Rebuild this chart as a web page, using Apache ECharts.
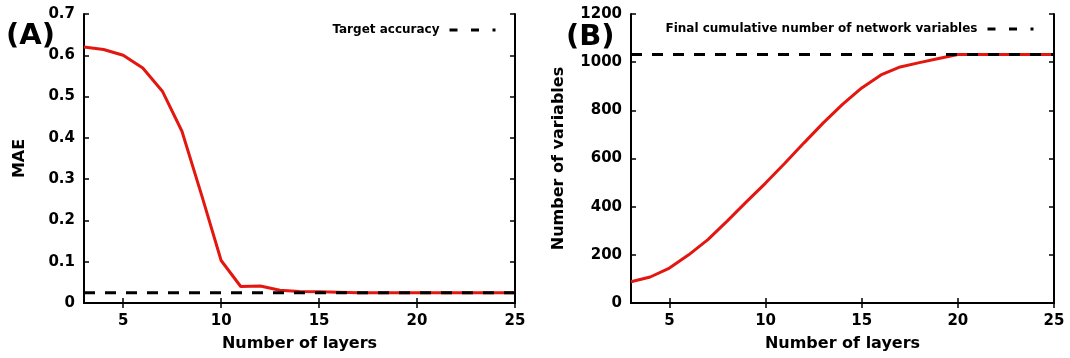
<!DOCTYPE html>
<html>
<head>
<meta charset="utf-8">
<script src="https://cdn.jsdelivr.net/npm/echarts@6.0.0/dist/echarts.min.js"></script>
<style>
  html, body { margin: 0; padding: 0; background: #fff; }
  #main { width: 1070px; height: 358px; }
</style>
</head>
<body>
<div id="main"></div>
<script>
// 层数
var layersA = [3, 4, 5, 6, 7, 8, 9, 10, 11, 12, 13, 14, 15, 16, 17, 18, 19, 20, 21, 22, 23, 24, 25];
var mae = [0.62, 0.614, 0.6, 0.569, 0.513, 0.416, 0.262, 0.103, 0.04, 0.041, 0.031, 0.028, 0.027, 0.026, 0.025, 0.025, 0.025, 0.025, 0.025, 0.025, 0.025, 0.025, 0.025];
var targetAcc = 0.025;

var layersB = [3, 4, 5, 6, 7, 8, 9, 10, 11, 12, 13, 14, 15, 16, 17, 18, 19, 20, 21, 22, 23, 24, 25];
var numVars = [88, 108, 145, 200, 263, 340, 420, 498, 580, 665, 748, 825, 893, 947, 980, 998, 1015, 1032, 1032, 1032, 1032, 1032, 1032];
var finalVars = 1032;

var xTicks = [5, 10, 15, 20, 25];

function pairs(xs, ys) {
    var out = [];
    for (var i = 0; i < xs.length; i++) {
        out.push([xs[i], ys[i]]);
    }
    return out;
}

var FONT = 'DejaVu Sans';
var RED = '#e3170f';

// 底部x轴
function bottomX(grid) {
    return {
        type: 'value', gridIndex: grid, min: 3, max: 25, position: 'bottom',
        name: 'Number of layers', nameLocation: 'middle', nameGap: 33,
        nameTextStyle: { fontFamily: FONT, fontWeight: 'bold', fontSize: 16, color: '#000' },
        axisLine: { show: true, lineStyle: { color: '#000', width: 2 } },
        axisTick: { show: true, inside: true, length: 5, customValues: xTicks, lineStyle: { color: '#000', width: 1.5 } },
        axisLabel: { customValues: xTicks, margin: 11, fontFamily: FONT, fontWeight: 'bold', fontSize: 15, color: '#000' },
        splitLine: { show: false }
    };
}
// 顶部镜像轴
function topX(grid) {
    return {
        type: 'value', gridIndex: grid, min: 3, max: 25, position: 'top',
        axisLine: { show: true, lineStyle: { color: '#000', width: 2 } },
        axisTick: { show: true, inside: true, length: 5, customValues: xTicks, lineStyle: { color: '#000', width: 1.5 } },
        axisLabel: { show: false },
        splitLine: { show: false }
    };
}
function leftY(grid, max, interval, name, gap, fmt) {
    return {
        type: 'value', gridIndex: grid, min: 0, max: max, interval: interval, position: 'left',
        name: name, nameLocation: 'middle', nameGap: gap,
        nameTextStyle: { fontFamily: FONT, fontWeight: 'bold', fontSize: 16, color: '#000' },
        axisLine: { show: true, lineStyle: { color: '#000', width: 2 } },
        axisTick: { show: true, inside: true, length: 5, lineStyle: { color: '#000', width: 1.5 } },
        axisLabel: { margin: 9, fontFamily: FONT, fontWeight: 'bold', fontSize: 15, color: '#000', formatter: fmt },
        splitLine: { show: false }
    };
}
function rightY(grid, max, interval) {
    return {
        type: 'value', gridIndex: grid, min: 0, max: max, interval: interval, position: 'right',
        axisLine: { show: true, lineStyle: { color: '#000', width: 2 } },
        axisTick: { show: true, inside: true, length: 5, lineStyle: { color: '#000', width: 1.5 } },
        axisLabel: { show: false },
        splitLine: { show: false }
    };
}

var myChart = echarts.init(document.getElementById('main'));

var option = {
    backgroundColor: '#fff',
    animation: false,
    title: [
        { text: '(A)', left: 6, top: 22, padding: 0, textStyle: { fontFamily: FONT, fontWeight: 'bold', fontSize: 29, color: '#000' } },
        { text: '(B)', left: 566, top: 23, padding: 0, textStyle: { fontFamily: FONT, fontWeight: 'bold', fontSize: 29, color: '#000' } }
    ],
    grid: [
        { left: 84, top: 14, width: 431, height: 289 },
        { left: 631, top: 14, width: 423, height: 289 }
    ],
    legend: [
        {
            data: ['Target accuracy'], right: 573, top: 24, padding: 0, align: 'right',
            itemWidth: 46, itemHeight: 14,
            itemStyle: { opacity: 0 },
            lineStyle: { width: 3, type: [8, 13.5], color: '#000' },
            textStyle: { fontFamily: FONT, fontWeight: 'bold', fontSize: 12, color: '#000', padding: [0, 5, 0, 0] }
        },
        {
            data: ['Final cumulative number of network variables'], right: 35, top: 23, padding: 0, align: 'right',
            itemWidth: 46, itemHeight: 14,
            itemStyle: { opacity: 0 },
            lineStyle: { width: 3, type: [8, 13.5], color: '#000' },
            textStyle: { fontFamily: FONT, fontWeight: 'bold', fontSize: 12, color: '#000', padding: [0, 5, 0, 0] }
        }
    ],
    xAxis: [bottomX(0), topX(0), bottomX(1), topX(1)],
    yAxis: [
        leftY(0, 0.7, 0.1, 'MAE', 56, function (v) { return String(+v.toFixed(1)); }),
        rightY(0, 0.7, 0.1),
        leftY(1, 1200, 200, 'Number of variables', 64, function (v) { return String(v); }),
        rightY(1, 1200, 200)
    ],
    series: [
        {
            name: 'MAE', type: 'line', xAxisIndex: 0, yAxisIndex: 0,
            data: pairs(layersA, mae), symbol: 'none', z: 2,
            lineStyle: { color: RED, width: 3 }
        },
        {
            name: 'Target accuracy', type: 'line', xAxisIndex: 0, yAxisIndex: 0,
            data: [[3, targetAcc], [25, targetAcc]], symbol: 'none', z: 3,
            itemStyle: { color: '#000' },
            lineStyle: { color: '#000', width: 3, type: [11, 10] }
        },
        {
            name: 'variables', type: 'line', xAxisIndex: 2, yAxisIndex: 2,
            data: pairs(layersB, numVars), symbol: 'none', z: 2,
            lineStyle: { color: RED, width: 3 }
        },
        {
            name: 'Final cumulative number of network variables', type: 'line', xAxisIndex: 2, yAxisIndex: 2,
            data: [[3, finalVars], [25, finalVars]], symbol: 'none', z: 3,
            itemStyle: { color: '#000' },
            lineStyle: { color: '#000', width: 3, type: [11, 10] }
        }
    ]
};
myChart.setOption(option);
</script>
</body>
</html>
